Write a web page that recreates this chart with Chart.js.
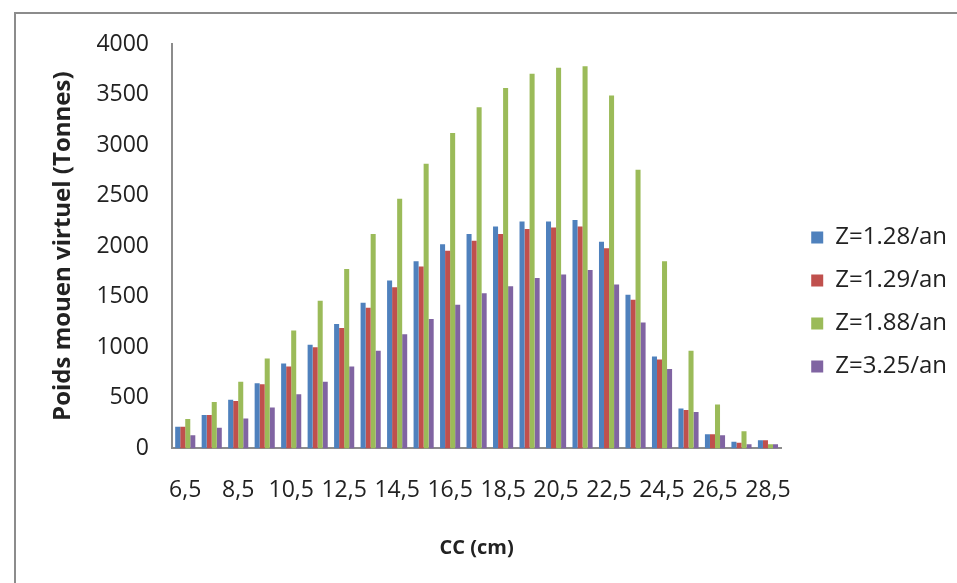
<!DOCTYPE html>
<html>
<head>
<meta charset="utf-8">
<script src="https://cdn.jsdelivr.net/npm/chart.js@4"></script>
<style>
  html, body { margin: 0; padding: 0; background: #fff; }
  #frame { position: absolute; left: 14px; top: 12px; width: 1000px; height: 600px; border: 2px solid #8c8c8c; }
  #wrap { position: absolute; left: 0; top: 0; width: 957px; height: 583px; }
</style>
</head>
<body>
<div id="frame"></div>
<div id="wrap"><canvas id="chart"></canvas></div>
<script>
// CC (cm) classes
var labels = ['6,5', '7,5', '8,5', '9,5', '10,5', '11,5', '12,5', '13,5', '14,5', '15,5', '16,5', '17,5',
  '18,5', '19,5', '20,5', '21,5', '22,5', '23,5', '24,5', '25,5', '26,5', '27,5', '28,5'];

var z128 = [215, 330, 480, 645, 840, 1025, 1230, 1440, 1660, 1850, 2020, 2120,
  2195, 2245, 2245, 2260, 2045, 1520, 910, 395, 140, 65, 80];
var z129 = [215, 330, 470, 635, 810, 1000, 1190, 1390, 1595, 1800, 1955, 2055,
  2120, 2170, 2185, 2195, 1980, 1470, 880, 380, 140, 55, 80];
var z188 = [290, 460, 660, 890, 1165, 1460, 1775, 2120, 2470, 2815, 3120, 3375,
  3565, 3705, 3765, 3780, 3490, 2755, 1850, 965, 435, 170, 40];
var z325 = [130, 205, 295, 405, 535, 660, 810, 965, 1130, 1280, 1420, 1535,
  1605, 1685, 1720, 1765, 1620, 1245, 785, 360, 130, 40, 40];

var seriesNames = ['Z=1.28/an', 'Z=1.29/an', 'Z=1.88/an', 'Z=3.25/an'];
var colors = ['#4F81BD', '#C0504D', '#9BBB59', '#8064A2'];

var font = '"Open Sans", sans-serif';

var datasets = [z128, z129, z188, z325].map(function (vals, i) {
  return {
    label: seriesNames[i],
    data: vals,
    backgroundColor: colors[i],
    borderWidth: 0,
    categoryPercentage: 0.76,
    barPercentage: 1.0
  };
});

var chart = new Chart(document.getElementById('chart'), {
  type: 'bar',
  data: { labels: labels, datasets: datasets },
  options: {
    responsive: true,
    maintainAspectRatio: false,
    animation: false,
    layout: { padding: { left: 49, top: 44, right: 11, bottom: 23 } },
    plugins: {
      tooltip: { enabled: false },
      legend: {
        position: 'right',
        labels: {
          boxWidth: 12,
          boxHeight: 12,
          padding: 19,
          color: '#222',
          font: { family: font, size: 24 }
        }
      }
    },
    scales: {
      x: {
        grid: { display: false, drawTicks: false },
        border: { color: '#8c8c8c', width: 2 },
        ticks: {
          autoSkip: false,
          maxRotation: 0,
          padding: 28,
          color: '#222',
          font: { family: font, size: 23 },
          callback: function (v, i) { return i % 2 === 0 ? labels[i] : ''; }
        },
        title: {
          display: true,
          text: 'CC (cm)',
          color: '#222',
          padding: { top: 4, bottom: 0 },
          font: { family: font, size: 20, weight: 'bold' }
        }
      },
      y: {
        min: 0,
        max: 4000,
        afterFit: function (s) { s.width = 123; },
        grid: { display: false, drawTicks: true, tickLength: 6, tickColor: '#8c8c8c', tickWidth: 2 },
        border: { color: '#8c8c8c', width: 2 },
        ticks: {
          stepSize: 500,
          padding: 17,
          color: '#222',
          font: { family: font, size: 23 },
          callback: function (v) { return String(v); }
        },
        title: {
          display: true,
          text: 'Poids mouen virtuel (Tonnes)',
          color: '#222',
          padding: { top: 0, bottom: 0 },
          font: { family: font, size: 24, weight: 'bold' }
        }
      }
    }
  }
});

// push the legend a bit to the right of the plot, like the original
var legendDraw = chart.legend.draw;
chart.legend.draw = function () {
  var ctx = this.ctx;
  ctx.save();
  ctx.translate(11, 0);
  legendDraw.apply(this, arguments);
  ctx.restore();
};
chart.draw();
</script>
</body>
</html>
